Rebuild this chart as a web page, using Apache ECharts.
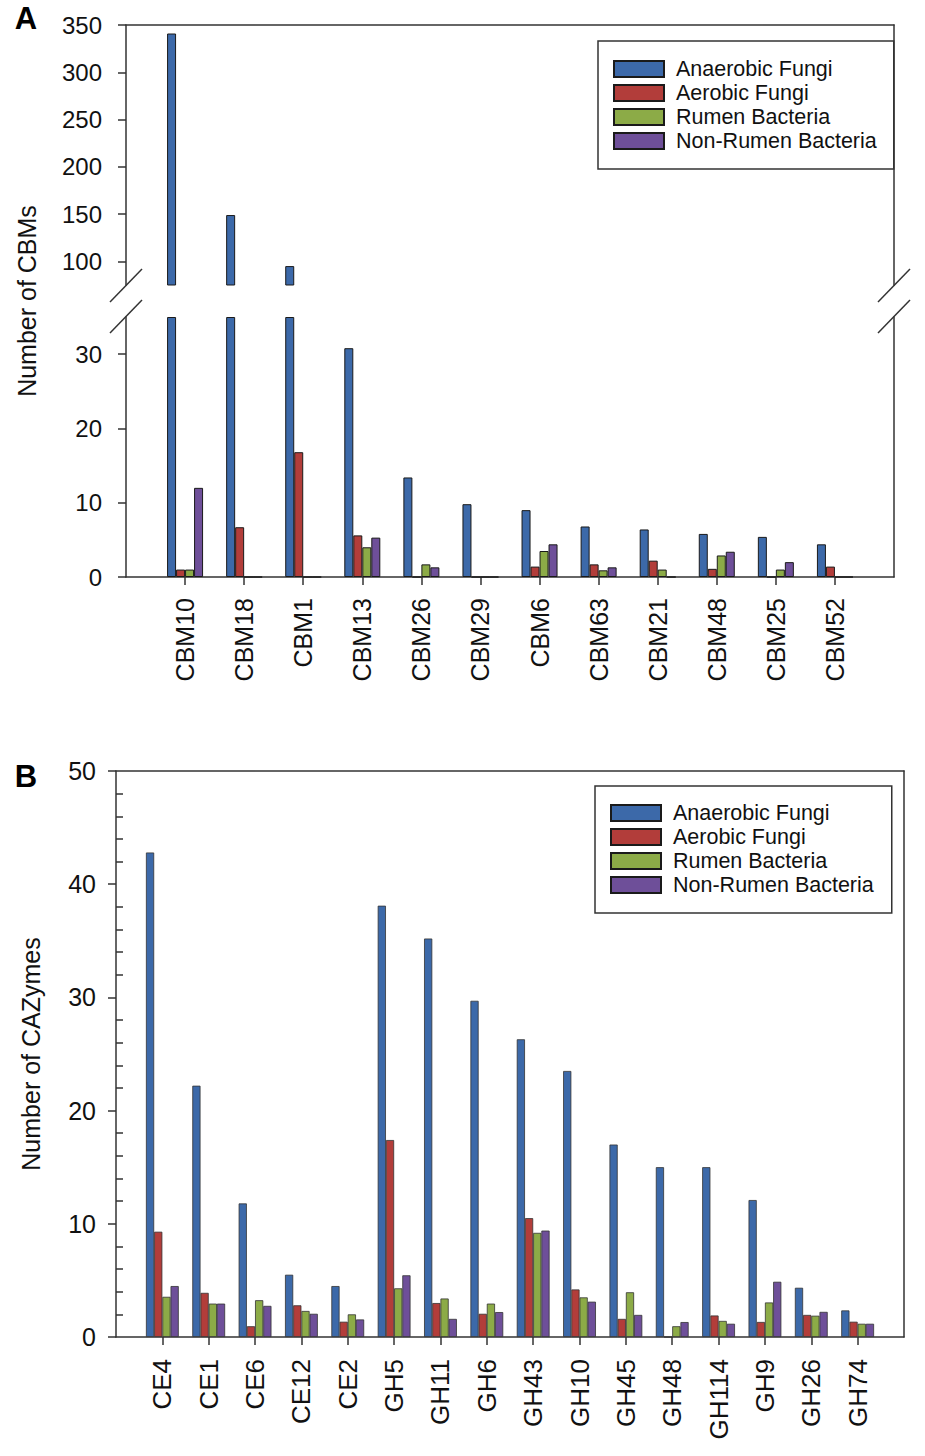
<!DOCTYPE html>
<html><head><meta charset="utf-8">
<script src="https://cdn.jsdelivr.net/npm/echarts@6/dist/echarts.min.js"></script>
<style>html,body{margin:0;padding:0;background:#fff}#c{width:925px;height:1456px}</style>
</head><body><div id="c"></div>
<script>
// ---------- DATA ----------
const seriesNames = ['Anaerobic Fungi', 'Aerobic Fungi', 'Rumen Bacteria', 'Non-Rumen Bacteria'];
const seriesColors = ['#3C69A9', '#B23D3A', '#8CAB47', '#6E4F99'];

const catsA = ['CBM10','CBM18','CBM1','CBM13','CBM26','CBM29','CBM6','CBM63','CBM21','CBM48','CBM25','CBM52'];
const anaerobicA = [341, 149, 95, 30.8, 13.4, 9.8, 9.0, 6.8, 6.4, 5.8, 5.4, 4.4];
const aerobicA   = [1.0, 6.7, 16.8, 5.6, 0, 0, 1.4, 1.7, 2.2, 1.1, 0, 1.4];
const rumenA     = [1.0, 0, 0, 4.0, 1.7, 0, 3.5, 0.9, 1.0, 2.9, 1.0, 0];
const nonRumenA  = [12.0, 0, 0, 5.3, 1.3, 0, 4.4, 1.3, 0, 3.4, 2.0, 0];

const catsB = ['CE4','CE1','CE6','CE12','CE2','GH5','GH11','GH6','GH43','GH10','GH45','GH48','GH114','GH9','GH26','GH74'];
const anaerobicB = [42.8, 22.2, 11.8, 5.5, 4.5, 38.1, 35.2, 29.7, 26.3, 23.5, 17.0, 15.0, 15.0, 12.1, 4.35, 2.35];
const aerobicB   = [9.3, 3.9, 0.95, 2.8, 1.35, 17.4, 3.0, 2.05, 10.5, 4.2, 1.6, 0, 1.9, 1.33, 1.95, 1.35];
const rumenB     = [3.55, 2.95, 3.25, 2.3, 2.0, 4.3, 3.4, 2.95, 9.2, 3.5, 3.95, 0.95, 1.42, 3.05, 1.88, 1.17];
const nonRumenB  = [4.5, 2.95, 2.75, 2.05, 1.55, 5.45, 1.6, 2.2, 9.4, 3.12, 1.95, 1.32, 1.17, 4.88, 2.22, 1.17];

const yTicksATop = [100, 150, 200, 250, 300, 350];
const yTicksABottom = [0, 10, 20, 30];
const yTicksB = [0, 10, 20, 30, 40, 50];

// ---------- LAYOUT ----------
const FONT = "'Liberation Sans', Arial, sans-serif";
const LINE = { show: true, onZero: false, lineStyle: { color: '#333', width: 1.5 } };
const gA = { left: 126, right: 31, topA: 25, hTop: 260, topB: 317, hBot: 260 };
const gB = { left: 116, right: 21, top: 771, height: 566 };
const W = 925;

const dataA = [anaerobicA, aerobicA, rumenA, nonRumenA];
const dataB = [anaerobicB, aerobicB, rumenB, nonRumenB];
const posA = catsA.map((c, i) => i + 1);
const posB = catsB.map((c, i) => i + 1);

function lineOnly(extra) {
  return Object.assign({
    axisLine: LINE, axisTick: { show: false }, axisLabel: { show: false }, splitLine: { show: false }
  }, extra);
}

const xAxis = [
  lineOnly({ type: 'value', gridIndex: 0, min: 0, max: catsA.length + 1, position: 'top' }),
  { type: 'value', gridIndex: 1, min: 0, max: catsA.length + 1, position: 'bottom',
    axisLine: LINE, splitLine: { show: false },
    axisTick: { show: true, length: 8, customValues: posA, lineStyle: { color: '#333', width: 1.5 } },
    axisLabel: { show: true, customValues: posA, rotate: 90, margin: 21, fontSize: 25, fontFamily: FONT, color: '#111',
      formatter: v => catsA[Math.round(v) - 1] || '' } },
  { type: 'value', gridIndex: 2, min: 0, max: catsB.length + 1, position: 'bottom',
    axisLine: LINE, splitLine: { show: false },
    axisTick: { show: true, length: 8, customValues: posB, lineStyle: { color: '#333', width: 1.5 } },
    axisLabel: { show: true, customValues: posB, rotate: 90, margin: 22, fontSize: 26, fontFamily: FONT, color: '#111',
      formatter: v => catsB[Math.round(v) - 1] || '' } },
  lineOnly({ type: 'value', gridIndex: 2, min: 0, max: catsB.length + 1, position: 'top' })
];

const yLabel = { show: true, fontSize: 24, fontFamily: FONT, color: '#111' };
const yTick = { show: true, length: 8, lineStyle: { color: '#333', width: 1.5 } };

const yAxis = [
  { type: 'value', gridIndex: 0, min: 75, max: 350, position: 'left', axisLine: LINE, splitLine: { show: false },
    axisTick: Object.assign({ customValues: yTicksATop }, yTick),
    axisLabel: Object.assign({ customValues: yTicksATop, margin: 24 }, yLabel) },
  lineOnly({ type: 'value', gridIndex: 0, min: 75, max: 350, position: 'right' }),
  { type: 'value', gridIndex: 1, min: 0, max: 35, position: 'left', axisLine: LINE, splitLine: { show: false },
    axisTick: Object.assign({ customValues: yTicksABottom }, yTick),
    axisLabel: Object.assign({ customValues: yTicksABottom, margin: 24 }, yLabel) },
  lineOnly({ type: 'value', gridIndex: 1, min: 0, max: 35, position: 'right' }),
  { type: 'value', gridIndex: 2, min: 0, max: 50, interval: 10, position: 'left', axisLine: LINE, splitLine: { show: false },
    axisTick: Object.assign({ customValues: yTicksB }, yTick),
    axisLabel: Object.assign({ customValues: yTicksB, margin: 20 }, yLabel, { fontSize: 25 }) },
  { type: 'value', gridIndex: 2, min: 0, max: 50, interval: 10, position: 'left',
    axisLine: { show: false, onZero: false }, axisLabel: { show: false }, splitLine: { show: false },
    axisTick: { show: false, inside: true },
    minorTick: { show: true, splitNumber: 5, length: 7, lineStyle: { color: '#333', width: 1.5 } } },
  lineOnly({ type: 'value', gridIndex: 2, min: 0, max: 50, position: 'right' })
];

const series = [];
seriesNames.forEach((name, k) => {
  // panel A, upper part (broken axis)
  series.push({ type: 'bar', name, xAxisIndex: 0, yAxisIndex: 0, barWidth: 9, barGap: 0,
    data: dataA[k].map((v, i) => [posA[i], v]),
    itemStyle: { color: seriesColors[k], borderColor: '#1a1a1a', borderWidth: 1 } });
  // panel A, lower part (values above the axis max are cut at the break)
  series.push({ type: 'bar', name, xAxisIndex: 1, yAxisIndex: 2, barWidth: 9, barGap: 0,
    data: dataA[k].map((v, i) => [posA[i], Math.min(v, 35)]),
    itemStyle: { color: seriesColors[k], borderColor: '#1a1a1a', borderWidth: 1 } });
  // panel B
  series.push({ type: 'bar', name, xAxisIndex: 2, yAxisIndex: 4, barWidth: 8.2, barGap: 0,
    data: dataB[k].map((v, i) => [posB[i], v]),
    itemStyle: { color: seriesColors[k], borderColor: '#333', borderWidth: 0.8 } });
});

const legendCommon = {
  orient: 'vertical', icon: 'rect', itemWidth: 50, itemHeight: 16, itemGap: 2,
  borderColor: '#333', borderWidth: 1.5, backgroundColor: '#fff',
  textStyle: { fontSize: 21.5, fontFamily: FONT, color: '#111', lineHeight: 22, padding: [0, 0, 0, 7] },
  data: seriesNames, selectedMode: false
};

// break marks geometry derived from grid layout
const xL = gA.left, xR = W - gA.right, yBrTop = gA.topA + gA.hTop, yBrBot = gA.topB;
function brk(x) {
  return [
    { type: 'line', shape: { x1: x - 16, y1: yBrTop + 17, x2: x + 16, y2: yBrTop - 16 }, style: { stroke: '#333', lineWidth: 1.5 } },
    { type: 'line', shape: { x1: x - 16, y1: yBrBot + 16, x2: x + 16, y2: yBrBot - 17 }, style: { stroke: '#333', lineWidth: 1.5 } }
  ];
}

const option = {
  animation: false,
  backgroundColor: '#fff',
  grid: [
    { left: gA.left, right: gA.right, top: gA.topA, height: gA.hTop },
    { left: gA.left, right: gA.right, top: gA.topB, height: gA.hBot },
    { left: gB.left, right: gB.right, top: gB.top, height: gB.height }
  ],
  xAxis, yAxis, series,
  legend: [
    Object.assign({ left: 598, top: 41, padding: [17, 17, 17, 15] }, legendCommon),
    Object.assign({ left: 595, top: 786, padding: [16, 18, 17, 15] }, legendCommon)
  ],
  graphic: [
    { type: 'text', x: 26, y: 18, style: { text: 'A', font: "bold 31px " + FONT, fill: '#000', align: 'center', verticalAlign: 'middle', textAlign: 'center', textVerticalAlign: 'middle' } },
    { type: 'text', x: 26, y: 776, style: { text: 'B', font: "bold 31px " + FONT, fill: '#000', align: 'center', verticalAlign: 'middle', textAlign: 'center', textVerticalAlign: 'middle' } },
    { type: 'text', x: 27, y: 301, rotation: Math.PI / 2, style: { text: 'Number of CBMs', font: "25px " + FONT, fill: '#111', align: 'center', verticalAlign: 'middle', textAlign: 'center', textVerticalAlign: 'middle' } },
    { type: 'text', x: 31, y: 1054, rotation: Math.PI / 2, style: { text: 'Number of CAZymes', font: "25px " + FONT, fill: '#111', align: 'center', verticalAlign: 'middle', textAlign: 'center', textVerticalAlign: 'middle' } }
  ].concat(brk(xL), brk(xR))
};

const chart = echarts.init(document.getElementById('c'), null, { renderer: 'svg', width: 925, height: 1456 });
chart.setOption(option);
</script>
</body></html>
